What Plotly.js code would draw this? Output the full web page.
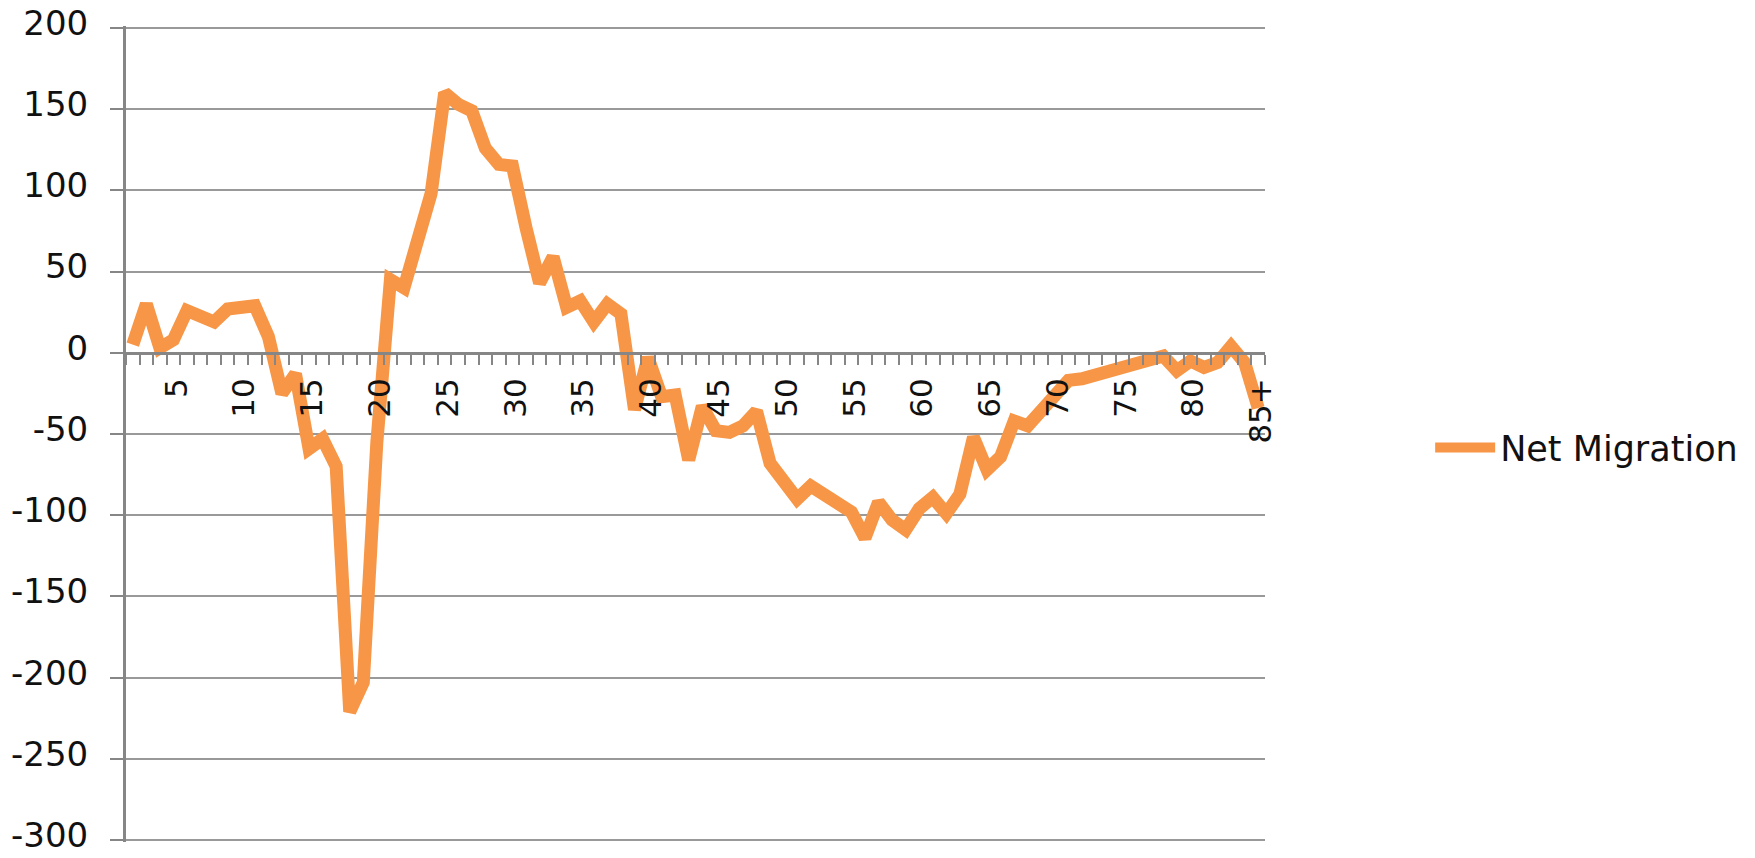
<!DOCTYPE html>
<html>
<head>
<meta charset="utf-8">
<script src="https://cdn.plot.ly/plotly-3.0.1.min.js"></script>
<style>
  html, body { margin: 0; padding: 0; background: #ffffff; }
  #chart { width: 1755px; height: 858px; }
</style>
</head>
<body>
<div id="chart"></div>
<script>
// Age categories (last one is "85+")
const ages = [2,3,4,5,6,7,8,9,10,11,12,13,14,15,16,17,18,19,20,21,22,23,24,25,26,27,28,29,30,
  31,32,33,34,35,36,37,38,39,40,41,42,43,44,45,46,47,48,49,50,51,52,53,54,55,56,57,58,59,60,
  61,62,63,64,65,66,67,68,69,70,71,72,73,74,75,76,77,78,79,80,81,82,83,84,85];

// Net migration values
const netMigration = [5,30,3,8,26,23,19,27,28,29,10,-25,-13,-59,-53,-70,-221,-203,-55,45,40,69,98,160,
  153,149,126,116,115,77,43,59,28,32,19,30,24,-35,-3,-27,-26,-66,-33,-48,-49,-45,-36,-68,-79,-90,
  -82,-87,-94,-98,-114,-92,-103,-109,-96,-89,-99,-87,-52,-72,-64,-42,-45,-36,-27,-17,-16,-14,-12,
  -10,-8,-6,-2,-11,-5,-9,-6,4,-6,-34];

// Tick labels on the category axis
const tickAges = [5,10,15,20,25,30,35,40,45,50,55,60,65,70,75,80,85];
const tickLabels = ['5','10','15','20','25','30','35','40','45','50','55','60','65','70','75','80','85+'];

const seriesName = 'Net Migration';
const yTicks = [200,150,100,50,0,-50,-100,-150,-200,-250,-300];

const FONT = '"DejaVu Sans", "Liberation Sans", Arial, sans-serif';
const GRID = '#999999';
const AXIS = '#868686';
const ORANGE = '#F79646';

const yMin = -301.2, yMax = 201.2;

const trace = {
  x: ages,
  y: netMigration,
  type: 'scatter',
  mode: 'lines',
  name: seriesName,
  line: { color: ORANGE, width: 13, shape: 'linear' },
  hoverinfo: 'x+y'
};

const layout = {
  width: 1755,
  height: 858,
  paper_bgcolor: '#ffffff',
  plot_bgcolor: '#ffffff',
  margin: { l: 126, r: 490, t: 26, b: 16, pad: 0 },
  font: { family: FONT, color: '#111111', size: 34 },
  showlegend: true,
  legend: {
    x: 1.145, xanchor: 'left',
    y: 0.483, yanchor: 'middle',
    font: { family: FONT, size: 35, color: '#111111' },
    bgcolor: 'rgba(0,0,0,0)',
    itemwidth: 60
  },
  xaxis: {
    range: [1.5, 85.5],
    anchor: 'free',
    position: (0 - yMin) / (yMax - yMin),
    showgrid: false,
    zeroline: false,
    showline: true,
    linecolor: AXIS,
    linewidth: 3,
    tickmode: 'array',
    tickvals: tickAges,
    ticktext: tickLabels,
    tickangle: -90,
    ticks: '',
    ticklabelstandoff: 11,
    ticklabelshift: 3,
    ticklabeloverflow: 'allow',
    tickfont: { family: FONT, size: 31, color: '#111111' },
    minor: {
      ticks: 'outside',
      tick0: 1.5,
      dtick: 1,
      ticklen: 10,
      tickwidth: 2,
      tickcolor: AXIS,
      showgrid: false
    }
  },
  yaxis: {
    range: [yMin, yMax],
    tickmode: 'array',
    tickvals: yTicks,
    ticktext: yTicks.map(String),
    showgrid: true,
    gridcolor: GRID,
    gridwidth: 2,
    zeroline: false,
    showline: true,
    linecolor: AXIS,
    linewidth: 3,
    ticks: 'outside',
    ticklen: 13,
    tickwidth: 2,
    tickcolor: AXIS,
    ticklabelstandoff: 15,
    ticklabelshift: -5,
    ticklabeloverflow: 'allow',
    tickfont: { family: FONT, size: 34, color: '#111111' }
  }
};

Plotly.newPlot('chart', [trace], layout, { displayModeBar: false, staticPlot: true });
</script>
</body>
</html>
